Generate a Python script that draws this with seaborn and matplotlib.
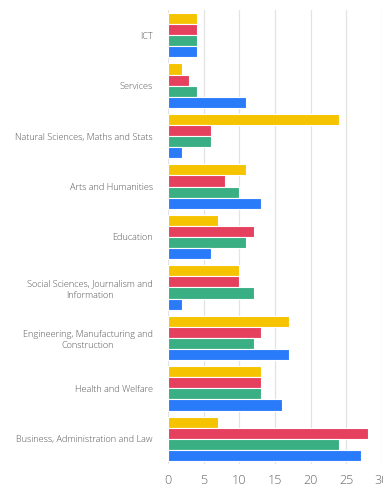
import matplotlib
matplotlib.use("Agg")
import matplotlib.pyplot as plt
import seaborn as sns
import pandas as pd

categories = [
    "ICT",
    "Services",
    "Natural Sciences, Maths and Stats",
    "Arts and Humanities",
    "Education",
    "Social Sciences, Journalism and\nInformation",
    "Engineering, Manufacturing and\nConstruction",
    "Health and Welfare",
    "Business, Administration and Law",
]
series_names = ["Series 1", "Series 2", "Series 3", "Series 4"]
series_1 = [4, 2, 24, 11, 7, 10, 17, 13, 7]
series_2 = [4, 3, 6, 8, 12, 10, 13, 13, 28]
series_3 = [4, 4, 6, 10, 11, 12, 12, 13, 24]
series_4 = [4, 11, 2, 13, 6, 2, 17, 16, 27]
x_ticks = [0, 5, 10, 15, 20, 25, 30]
colors = ["#F6C300", "#E5405E", "#3BAF84", "#2A7BFA"]

rows = []
for name, vals in zip(series_names, [series_1, series_2, series_3, series_4]):
    for c, v in zip(categories, vals):
        rows.append({"category": c, "series": name, "value": v})
df = pd.DataFrame(rows)

sns.set_style("white")
plt.rcParams["font.family"] = ["Open Sans", "DejaVu Sans"]

fig = plt.figure(figsize=(3.83, 4.92), dpi=100)
ax = fig.add_axes([168 / 383, 1 - 464 / 492, (382 - 168) / 383, (464 - 10) / 492])
sns.barplot(data=df, y="category", x="value", hue="series", order=categories,
            hue_order=series_names, palette=colors, saturation=1, width=0.88,
            orient="h", edgecolor="white", linewidth=0.8, legend=False, ax=ax)
ax.set_xlim(0, 30)
ax.set_xticks(x_ticks)
ax.grid(axis="x", color="#e3e3e3", linewidth=0.9)
ax.set_axisbelow(True)
for s in ax.spines.values():
    s.set_visible(False)
ax.set_xlabel("")
ax.set_ylabel("")
ax.tick_params(axis="y", length=0, pad=11, labelsize=6.6, labelcolor="#555555")
ax.tick_params(axis="x", length=0, pad=7, labelsize=9, labelcolor="#666666")
for t in ax.get_yticklabels():
    t.set_horizontalalignment("right")
    t.set_multialignment("center")
    t.set_fontweight("light")
    t.set_linespacing(1.3)
for t in ax.get_xticklabels():
    t.set_fontweight("light")
fig.savefig("out.png", dpi=100)
